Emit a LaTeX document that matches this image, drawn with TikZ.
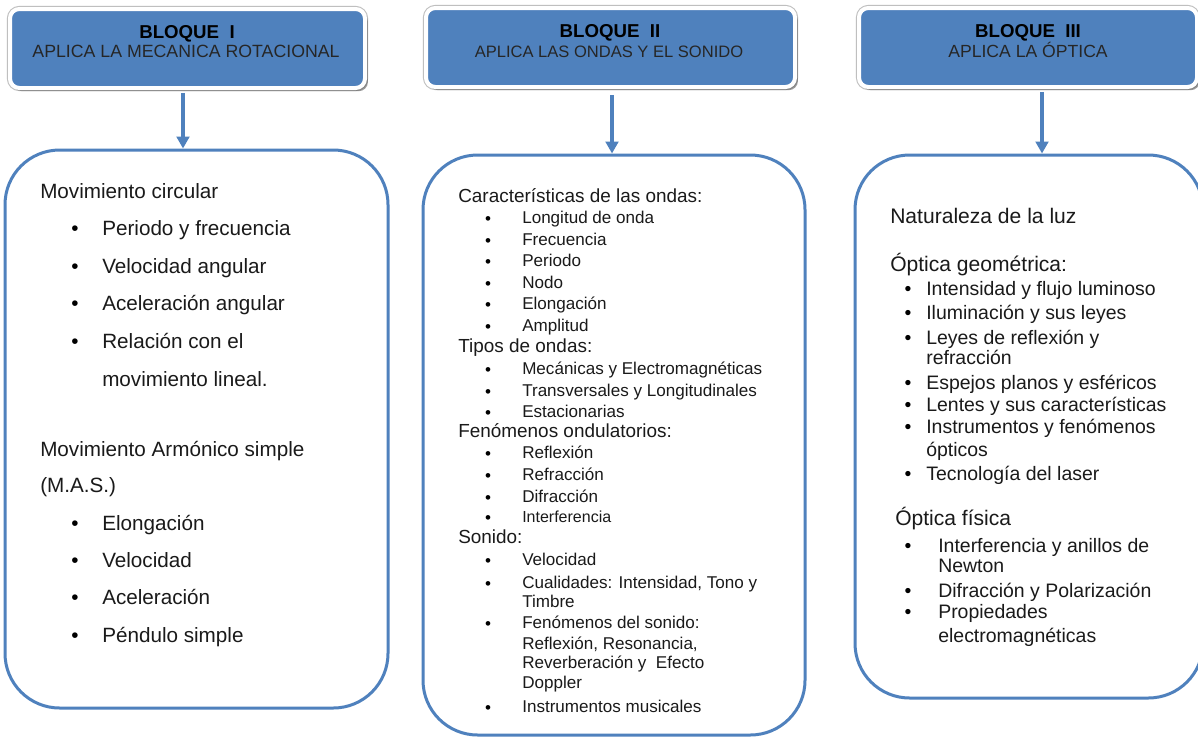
\documentclass[tikz,border=0pt]{standalone}
\usepackage{fontspec}
\setmainfont{Liberation Sans}
\usetikzlibrary{arrows.meta,shadows}
\definecolor{blu}{HTML}{4F81BD}
\definecolor{txt}{HTML}{1A1A1A}
\tikzset{
  hdr/.style={rectangle, rounded corners=7pt, fill=blu, draw=white, line width=3pt,
    minimum height=59.25pt, inner sep=0pt,
    preaction={draw=black!25, line width=4.6pt},
    drop shadow={shadow xshift=2.2pt, shadow yshift=-2.4pt, opacity=0.6, fill=black!65}},
  cbox/.style={rectangle, rounded corners=41pt, draw=blu, line width=2.25pt, fill=none, inner sep=0pt},
  arr/.style={draw=blu, line width=2.4pt, -{Triangle[width=9.5pt,length=9pt]}},
  htitle/.style={anchor=base, inner sep=0pt, font=\fontsize{14}{16}\selectfont\bfseries, text=black},
  hsub/.style={anchor=base, inner sep=0pt, text=black!85},
  ta/.style={anchor=base west, inner sep=0pt, text=txt, font=\fontsize{15.5}{18}\selectfont},
  tbh/.style={anchor=base west, inner sep=0pt, text=txt, font=\fontsize{14.2}{16}\selectfont},
  tbi/.style={anchor=base west, inner sep=0pt, text=txt, font=\fontsize{12.8}{15}\selectfont},
  tch/.style={anchor=base west, inner sep=0pt, text=txt, font=\fontsize{15.8}{18}\selectfont},
  tci/.style={anchor=base west, inner sep=0pt, text=txt, font=\fontsize{14.6}{17}\selectfont},
  bul/.style={anchor=base, inner sep=0pt, text=black},
}
\begin{document}
\begin{tikzpicture}[x=0.75pt,y=-0.75pt]
\useasboundingbox (0,0) rectangle (1198,739);
\fill[white] (0,0) rectangle (1198,739);
\clip (0,0) rectangle (1198,739);

% header boxes
\node[hdr, minimum width=266.25pt] (h1) at (187.5,48.5) {};
\node[hdr, minimum width=276.75pt] (h2) at (610.5,47.5) {};
\node[hdr, minimum width=253.5pt] (h3) at (1028,47.5) {};

\node[htitle] (h1t) at (187,38) {BLOQUE\ \ I};
\node[hsub, font=\fontsize{13.3}{15}\selectfont] (h1s) at (186,57) {APLICA LA MECANICA ROTACIONAL};
\node[htitle] (h2t) at (610,37) {BLOQUE\ \ II};
\node[hsub, font=\fontsize{12.4}{15}\selectfont] (h2s) at (609,57) {APLICA LAS ONDAS Y EL SONIDO};
\node[htitle] (h3t) at (1028,37) {BLOQUE\ \ III};
\node[hsub, font=\fontsize{13.2}{15}\selectfont] (h3s) at (1028,57) {APLICA LA ÓPTICA};

% content boxes
\node[cbox, minimum width=287.25pt, minimum height=418.5pt] (c1) at (196.5,429) {};
\node[cbox, minimum width=286.5pt, minimum height=435pt] (c2) at (614,445) {};
\node[cbox, minimum width=261pt, minimum height=407.25pt] (c3) at (1029,426.5) {};

% arrows
\coordinate (x1) at (183,0);
\coordinate (x2) at (612,0);
\coordinate (x3) at (1042,0);
\draw[arr] ([yshift=-2.2pt]h1.south -| x1) -- (c1.north -| x1);
\draw[arr] ([yshift=-4.5pt]h2.south -| x2) -- (c2.north -| x2);
\draw[arr] ([yshift=-2.2pt]h3.south -| x3) -- (c3.north -| x3);

% Box I text
\foreach \y/\t [count=\i] in {198/Movimiento circular, 456/Movimiento Armónico simple, 492/(M.A.S.)}
  \node[ta] (ah\i) at (40,\y) {\t};
\foreach \y/\t [count=\i] in {235/Periodo y frecuencia, 273/Velocidad angular, 310/Aceleración angular,
   348/Relación con el, 530/Elongación, 567/Velocidad, 604/Aceleración, 642/Péndulo simple}
  {\node[ta] (ai\i) at (102,\y) {\t};
   \node[bul, font=\fontsize{15.5}{18}\selectfont] (ab\i) at (75,\y) {•};}
\node[ta] (ac1) at (102,386) {movimiento lineal.};

% Box II text
\foreach \y/\t [count=\i] in {202/Características de las ondas:, 352/Tipos de ondas:,
   437/Fenómenos ondulatorios:, 543/Sonido:}
  \node[tbh] (bh\i) at (458,\y) {\t};
\foreach \y/\t [count=\i] in {223/Longitud de onda, 245/Frecuencia, 266/Periodo, 288/Nodo,
   309/Elongación, 331/Amplitud, 374/Mecánicas y Electromagnéticas,
   396/Transversales y Longitudinales, 417/Estacionarias, 458/Reflexión, 480/Refracción,
   502/Difracción, 565/Velocidad, 588/{Cualidades: Intensidad, Tono y},
   628/Fenómenos del sonido:, 712/Instrumentos musicales}
  {\node[tbi] (bi\i) at (522,\y) {\t};
   \node[bul, font=\fontsize{12.8}{15}\selectfont] (bb\i) at (488,\y+1) {•};}
\node[tbi, font=\fontsize{12}{14}\selectfont] (bi17) at (522,522) {Interferencia};
\node[bul, font=\fontsize{12.8}{15}\selectfont] (bb17) at (488,523) {•};
\foreach \y/\t [count=\i] in {607/Timbre, 649/{Reflexión, Resonancia,}, 668/Reverberación y\ \ Efecto, 688/Doppler}
  \node[tbi] (bc\i) at (522,\y) {\t};

% Box III text
\node[tch] (ch1) at (890,223) {Naturaleza de la luz};
\node[tch] (ch2) at (890,271) {Óptica geométrica:};
\node[tch] (ch3) at (895,525) {Óptica física};
\foreach \y/\t [count=\i] in {295/Intensidad y flujo luminoso, 319/Iluminación y sus leyes,
   344/Leyes de reflexión y, 389/Espejos planos y esféricos, 411/Lentes y sus características,
   433/Instrumentos y fenómenos, 480/Tecnología del laser}
  {\node[tci] (ci\i) at (926,\y) {\t};
   \node[bul, font=\fontsize{14.6}{17}\selectfont] (cb\i) at (908,\y) {•};}
\foreach \y/\t [count=\i] in {364/refracción, 456/ópticos}
  \node[tci] (cc\i) at (926,\y) {\t};
\foreach \y/\t [count=\i] in {552/Interferencia y anillos de, 597/Difracción y Polarización, 618/Propiedades}
  {\node[tci] (di\i) at (938,\y) {\t};
   \node[bul, font=\fontsize{14.6}{17}\selectfont] (db\i) at (908,\y) {•};}
\foreach \y/\t [count=\i] in {572/Newton, 642/electromagnéticas}
  \node[tci] (dc\i) at (938,\y) {\t};
\end{tikzpicture}
\end{document}
